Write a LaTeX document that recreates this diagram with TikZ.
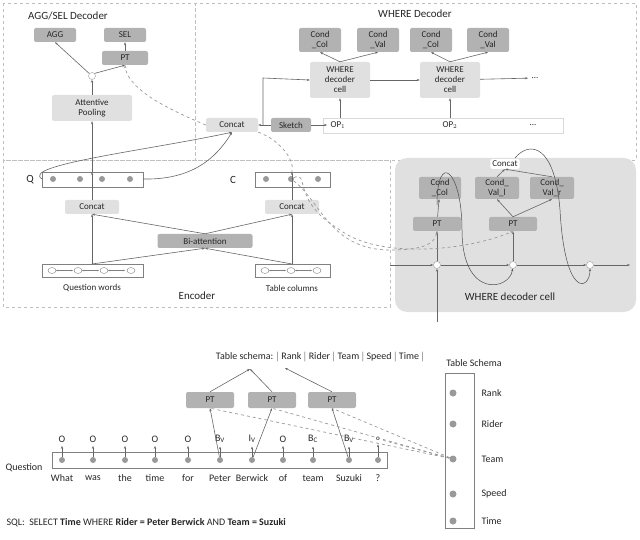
\documentclass[tikz,border=0pt]{standalone}
\usepackage{fontspec}
\setmainfont{Carlito}
\usetikzlibrary{arrows.meta}
\begin{document}
\begin{tikzpicture}[x=1pt,y=-1pt,
  every node/.style={font=\fontsize{9}{10}\selectfont,text=black!85},
  lb/.style={fill=black!12,rounded corners=2pt,inner sep=2pt,align=center},
  db/.style={fill=black!30,rounded corners=2pt,inner sep=2pt,align=center},
  ar/.style={draw=black!60,-{Stealth[length=3pt]},line width=0.6pt},
  dl/.style={draw=black!40,dashed,line width=0.7pt},
  dot/.style={circle,fill=black!40,minimum size=6pt,inner sep=0},
  oc/.style={circle,draw=black!40,fill=white,minimum size=7pt,inner sep=0},
  reg/.style={draw=black!25,dashed,line width=0.6pt}]
\useasboundingbox (0,0) rectangle (640,540);
% regions
\draw[reg] (3,3) rectangle (195,160);
\draw[reg] (195,3) rectangle (636,160);
\draw[reg] (3,160) rectangle (390,307);
\fill[black!12,rounded corners=12pt] (395,158) rectangle (636,312);
% AGG/SEL
\node[font=\fontsize{11}{12}\selectfont] (t1) at (68,16) {AGG/SEL Decoder};
\node[db,minimum width=42pt,minimum height=14pt] (agg) at (55,35) {AGG};
\node[db,minimum width=42pt,minimum height=14pt] (sel) at (125,35) {SEL};
\node[db,minimum width=46pt,minimum height=14pt] (pt0) at (125,58) {PT};
\node[oc] (c0) at (92,76) {};
\node[lb,minimum width=80pt,minimum height=26pt] (ap) at (92,108) {Attentive\\Pooling};
\draw[ar] (c0) -- (agg.south);
\draw[ar] (c0.north east) -- (pt0.south);
\draw[ar] (pt0) -- (sel);
\draw[ar] (ap) -- (c0);
% WHERE decoder
\node[font=\fontsize{11}{12}\selectfont] (t2) at (415,14) {WHERE Decoder};
\node[lb,minimum width=60pt,minimum height=36pt,inner sep=1pt] (w1) at (340,80) {WHERE\\decoder\\cell};
\node[lb,minimum width=60pt,minimum height=36pt,inner sep=1pt] (w2) at (450,80) {WHERE\\decoder\\cell};
\node (dots) at (535,78) {...};
\foreach \n/\x/\t in {cc1/320/\_Col,cv1/378/\_Val,cc2/431/\_Col,cv2/488/\_Val}{
  \node[db,minimum width=42pt,minimum height=24pt,inner sep=1pt] (\n) at (\x,40) {Cond\\\t};}
\draw[ar] (w1.north) -- (cc1.south);
\draw[ar] (w1.north) -- (cv1.south);
\draw[ar] (w2.north) -- (cc2.south);
\draw[ar] (w2.north) -- (cv2.south);
\draw[ar] (w1) -- (w2);
\draw[ar] (w2) -- (dots);
\node[lb,minimum width=52pt,minimum height=14pt] (cT) at (232,125) {Concat};
\node[db,minimum width=40pt,minimum height=14pt] (sk) at (291,125) {Sketch};
\draw[draw=black!15,fill=white] (323,118) rectangle (563,133);
\node (op1) at (338,125) {OP$_1$};
\node (op2) at (450,125) {OP$_2$};
\node (op3) at (533,125) {...};
\coordinate (ju) at (263,78);
\draw[ar] (sk) -- (op1);
\draw[ar] (sk.west) -- (cT.east);
\draw[ar] (263,125) -- (ju) -- (w1.west);
\draw[ar] (op1.north) ++(2,0) -- (w1.south);
\draw[ar] (op2) -- (w2);
% encoder
\node[font=\fontsize{11}{12}\selectfont] (Ql) at (30,180) {Q};
\draw[black!50] (42,172) rectangle (143,187);
\foreach \x/\n in {53/q1,80/q2,102/q3,130/q4} \node[dot] (\n) at (\x,179) {};
\node[font=\fontsize{11}{12}\selectfont] (Cl) at (233,180) {C};
\draw[black!50] (255,172) rectangle (330,187);
\foreach \x/\n in {266/k1,291/k2,318/k3} \node[dot] (\n) at (\x,179) {};
\node[lb,minimum width=54pt,minimum height=14pt] (ce1) at (92,207) {Concat};
\node[lb,minimum width=54pt,minimum height=14pt] (ce2) at (292,207) {Concat};
\node[db,minimum width=95pt,minimum height=14pt] (bi) at (205,241) {Bi-attention};
\draw[black!50] (42,264) rectangle (143,277);
\draw[black!50] (255,264) rectangle (330,277);
\foreach \x in {52,78,104,131} \draw[black!50] (\x,270.5) ellipse (4 and 3);
\foreach \x in {265,291,317} \draw[black!50] (\x,270.5) ellipse (4 and 3);
\foreach \x in {56,82,108} \draw[black!50,{Stealth[length=2pt]}-{Stealth[length=2pt]}] (\x,270.5) -- (\x+17,270.5);
\foreach \x in {269,295} \draw[black!50,{Stealth[length=2pt]}-{Stealth[length=2pt]}] (\x,270.5) -- (\x+17,270.5);
\node (qw) at (92,288) {Question words};
\node (tc) at (292,288) {Table columns};
\node[font=\fontsize{11}{12}\selectfont] (enc) at (197,296) {Encoder};
\coordinate (qwt) at (92,264); \coordinate (tct) at (292,264);
\draw[ar] (qwt) -- (ce1);
\draw[ar] (tct) -- (ce2);
\draw[ar] (qwt) -- (bi.south);
\draw[ar] (tct) -- (bi.south);
\draw[ar] (bi.north) -- (ce1.south);
\draw[ar] (bi.north) -- (ce2.south);
\draw[ar] (ce1) -- (92,172);
\draw[ar] (ce2) -- (292,172);
\draw[ar] (92,172) -- (ap);
\draw[draw=black!60,line width=0.6pt,-{Stealth[length=3pt]}] (42,179) .. controls (20,165) and (150,150) .. (cT.south);
\draw[draw=black!60,line width=0.6pt,-{Stealth[length=3pt]}] (143,179) .. controls (190,180) and (215,160) .. (cT.south);
\draw[dl,-{Stealth[length=3pt]}] (cT.west) .. controls (170,110) and (128,90) .. (pt0.south);
\draw[dl] (cT.south east) .. controls (280,140) and (295,160) .. (292,172);
% right cell
\node[lb,fill=white] (cR) at (505,164) {Concat};
\node[db,minimum width=42pt,minimum height=22pt,inner sep=1pt] (rc) at (440,188) {Cond\\\_Col};
\node[db,minimum width=44pt,minimum height=22pt,inner sep=1pt] (rvl) at (497,188) {Cond\_\\Val\_l};
\node[db,minimum width=44pt,minimum height=22pt,inner sep=1pt] (rvr) at (552,188) {Cond\_\\Val\_r};
\node[db,minimum width=48pt,minimum height=14pt] (rp1) at (437,224) {PT};
\node[db,minimum width=48pt,minimum height=14pt] (rp2) at (513,224) {PT};
\node[oc] (h1) at (437,265) {};
\node[oc] (h2) at (513,265) {};
\node[oc] (h3) at (590,265) {};
\coordinate (hin) at (390,265); \coordinate (hout) at (630,265);
\coordinate (vin) at (437,322);
\draw[ar] (hin) -- (h1); \draw[ar] (h1) -- (h2); \draw[ar] (h2) -- (h3); \draw[ar] (h3) -- (hout);
\draw[ar] (vin) -- (h1);
\draw[ar] (h1) -- (rp1); \draw[ar] (rp1) -- (rc);
\draw[ar] (h2) -- (rp2); \draw[ar] (rp2.north) -- (rvl.south); \draw[ar] (rp2.north) -- (rvr.south);
\draw[ar] (rvl.north) -- (cR.south); \draw[ar] (rvr.north) -- (cR.south);
\draw[black!70,line width=0.5pt,-{Stealth[length=2.5pt]}] (437,205) .. controls (437,150) and (462,170) .. (462,230) .. controls (462,300) and (510,290) .. (h2);
\draw[black!70,line width=0.5pt,-{Stealth[length=2.5pt]}] (515,158) .. controls (530,140) and (555,145) .. (560,210) .. controls (565,300) and (590,290) .. (h3);
\node[font=\fontsize{11}{12}\selectfont] (wdc) at (510,297) {WHERE decoder cell};
\draw[dl,-{Stealth[length=3pt]}] (k2) .. controls (320,200) and (330,250) .. (390,250) .. controls (420,250) and (435,245) .. (rp1.south);
\draw[dl,-{Stealth[length=3pt]}] (k2) .. controls (310,170) and (290,200) .. (340,230) .. controls (380,260) and (470,250) .. (rp2.south);
% bottom
\node[font=\fontsize{10}{11}\selectfont] (ts) at (320,357) {Table schema: $|$ Rank $|$ Rider $|$ Team $|$ Speed $|$ Time $|$};
\coordinate (tsa) at (250,369); \coordinate (tsb) at (285,368);
\node[db,minimum width=48pt,minimum height=16pt] (p1) at (210,400) {PT};
\node[db,minimum width=48pt,minimum height=16pt] (p2) at (272,400) {PT};
\node[db,minimum width=48pt,minimum height=16pt] (p3) at (332,400) {PT};
\draw[ar] (p1.north) -- (tsa); \draw[ar] (p2.north) -- (tsa); \draw[ar] (p3.north) -- (tsb);
\draw[black!50] (52,452) rectangle (387,468);
\node[font=\fontsize{10}{11}\selectfont] (qlab) at (24,468) {Question};
\foreach \x/\l/\w [count=\i] in {62/O/What,93/O/was,125/O/the,155/O/time,188/O/for,220/B$_\mathrm{V}$/Peter,252/I$_\mathrm{V}$/Berwick,283/O/of,313/B$_\mathrm{C}$/team,349/B$_\mathrm{V}$/Suzuki,378/\scriptsize o/?}{
  \node[dot] (d\i) at (\x,460) {};
  \node[font=\fontsize{10}{11}\selectfont\rmfamily] (l\i) at (\x,439) {\l};
  \node[font=\fontsize{10}{11}\selectfont] (w\i) at (\x,478) {\w};
  \draw[ar] (d\i) -- (l\i);}
\draw[ar] (d6) -- (p1.south);
\draw[ar] (d7) -- (p2.south);
\draw[ar] (d10) -- (p3.south);
\node[font=\fontsize{10}{11}\selectfont] (tsl) at (474,363) {Table Schema};
\draw[black!50] (445,373) rectangle (474,528);
\foreach \y/\t/\n in {393/Rank/s1,424/Rider/s2,459/Team/s3,494/Speed/s4,521/Time/s5}{
  \node[dot,minimum size=7pt] (\n) at (453,\y) {};
  \node[anchor=west,font=\fontsize{10}{11}\selectfont] (\n t) at (478,\y) {\t};}
\draw[dl] (s3) -- (p1.south);
\draw[dl] (s3) -- (p2.south);
\draw[dl] (s3) -- (p3.south);
\draw[dl] (s3) -- (l11);
\node[anchor=west,font=\fontsize{10}{11}\selectfont] (sql) at (3,523) {SQL:\ \ SELECT \textbf{Time} WHERE \textbf{Rider = Peter Berwick} AND \textbf{Team = Suzuki}};
\end{tikzpicture}
\end{document}
